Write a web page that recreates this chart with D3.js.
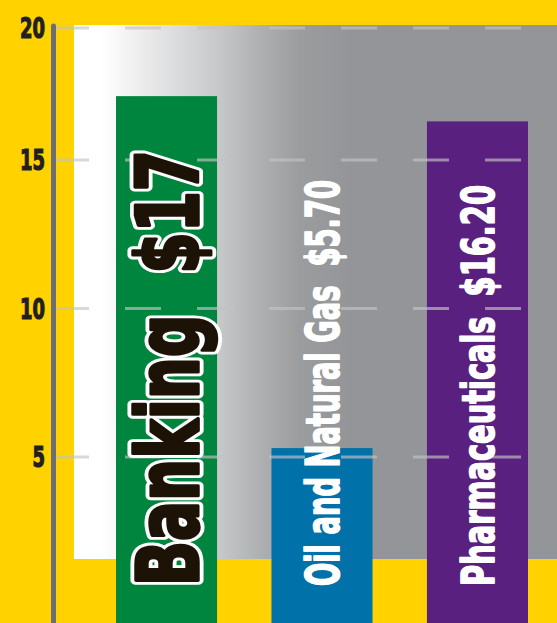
<!DOCTYPE html>
<html>
<head>
<meta charset="utf-8">
<script src="https://cdn.jsdelivr.net/npm/d3@7"></script>
<style>
  html, body { margin: 0; padding: 0; background: #FFD200; }
  svg { display: block; }
  text { white-space: pre; }
</style>
</head>
<body>
<svg id="chart" width="557" height="623"></svg>
<script>
// data
var categories = ["Banking", "Oil and Natural Gas", "Pharmaceuticals"];
var values = [17.15, 5.3, 16.3];
var valueLabels = ["$17", "$5.70", "$16.20"];
var tickValues = [5, 10, 15, 20];

var barColors = ["#00853F", "#0071A9", "#59207F"];
var labelFill = ["#1C1306", "#FFFFFF", "#FFFFFF"];
var labelSize = [86, 47, 45];
var labelLength = [436, 406, 401];

var width = 557, height = 623;
var panel = { left: 74, top: 25, bottom: 559 };
var fontStack = "'Liberation Sans Narrow', 'DejaVu Sans Condensed', sans-serif";

var svg = d3.select("#chart");

var x = d3.scaleBand()
	.domain(categories)
	.range([116, 528])
	.paddingInner(0.35)
	.paddingOuter(0);

var y = d3.scaleLinear()
	.domain([0, 15])
	.range([605.5, 160]);

var color = d3.scaleOrdinal().domain(categories).range(barColors);

// background panel with white -> gray gradient
var grad = svg.append("defs").append("linearGradient")
	.attr("id", "panelGrad")
	.attr("gradientUnits", "userSpaceOnUse")
	.attr("x1", panel.left).attr("x2", 350)
	.attr("y1", 0).attr("y2", 0);
[[0, "#FFFFFF"], [0.1, "#FFFFFF"], [0.53, "#C6C7C9"], [0.67, "#AEB0B2"], [0.82, "#9A9C9E"], [1, "#939598"]]
	.forEach(function(s) {
		grad.append("stop").attr("offset", s[0]).attr("stop-color", s[1]);
	});

svg.append("rect")
	.attr("x", panel.left)
	.attr("y", panel.top)
	.attr("width", width - panel.left)
	.attr("height", panel.bottom - panel.top)
	.attr("fill", "url(#panelGrad)");

// bars
svg.selectAll(".bar")
	.data(categories)
	.enter().append("rect")
	.attr("class", "bar")
	.attr("x", function(d) { return x(d); })
	.attr("y", function(d, i) { return y(values[i]); })
	.attr("width", x.bandwidth())
	.attr("height", function(d, i) { return height - y(values[i]); })
	.attr("fill", function(d) { return color(d); });

// dashed gridlines (top one sits on the panel edge)
function tickY(d) { return Math.max(y(d), panel.top + 3); }

svg.selectAll(".grid")
	.data(tickValues)
	.enter().append("line")
	.attr("class", "grid")
	.attr("x1", 53).attr("x2", width)
	.attr("y1", tickY).attr("y2", tickY)
	.attr("stroke", "rgba(195,195,195,0.65)")
	.attr("stroke-width", 3)
	.attr("stroke-dasharray", "36,36");

// axis line
svg.append("line")
	.attr("x1", 53.5).attr("x2", 53.5)
	.attr("y1", panel.top + 1).attr("y2", height + 5)
	.attr("stroke", "#6D6E71")
	.attr("stroke-width", 5)
	.attr("stroke-linecap", "round");

// tick labels
svg.selectAll(".tick-label")
	.data(tickValues)
	.enter().append("text")
	.attr("class", "tick-label")
	.attr("x", 45)
	.attr("y", tickY)
	.attr("dy", "0.36em")
	.attr("text-anchor", "end")
	.attr("font-family", fontStack)
	.attr("font-weight", "bold")
	.attr("font-size", 29)
	.attr("textLength", function(d) { return String(d).length * 12.5; })
	.attr("lengthAdjust", "spacingAndGlyphs")
	.attr("fill", "#231F20")
	.attr("stroke", "#231F20")
	.attr("stroke-width", 1.2)
	.text(function(d) { return d; });

// rotated bar labels, drawn as outline layer + heavy fill layer
function labelLayer(cls, strokeColor, strokeWidth) {
	svg.selectAll("." + cls)
		.data(categories)
		.enter().append("text")
		.attr("class", cls)
		.attr("transform", function(d, i) {
			var cx = x(d) + x.bandwidth() / 2;
			var bx = cx + labelSize[i] * 0.37;
			return "translate(" + bx + "," + 586 + ") rotate(-90)";
		})
		.attr("font-family", fontStack)
		.attr("font-weight", "bold")
		.attr("font-size", function(d, i) { return labelSize[i]; })
		.attr("textLength", function(d, i) { return labelLength[i]; })
		.attr("lengthAdjust", "spacingAndGlyphs")
		.attr("fill", function(d, i) { return labelFill[i]; })
		.attr("stroke", function(d, i) { return strokeColor(i); })
		.attr("stroke-width", strokeWidth)
		.attr("stroke-linejoin", "round")
		.text(function(d, i) { return d + "  " + valueLabels[i]; });
}

labelLayer("label-outline", function(i) { return i == 0 ? "#FFFFFF" : "none"; }, 11);
labelLayer("bar-label", function(i) { return labelFill[i]; }, function(d, i) { return i == 0 ? 3.5 : 1.6; });
</script>
</body>
</html>
